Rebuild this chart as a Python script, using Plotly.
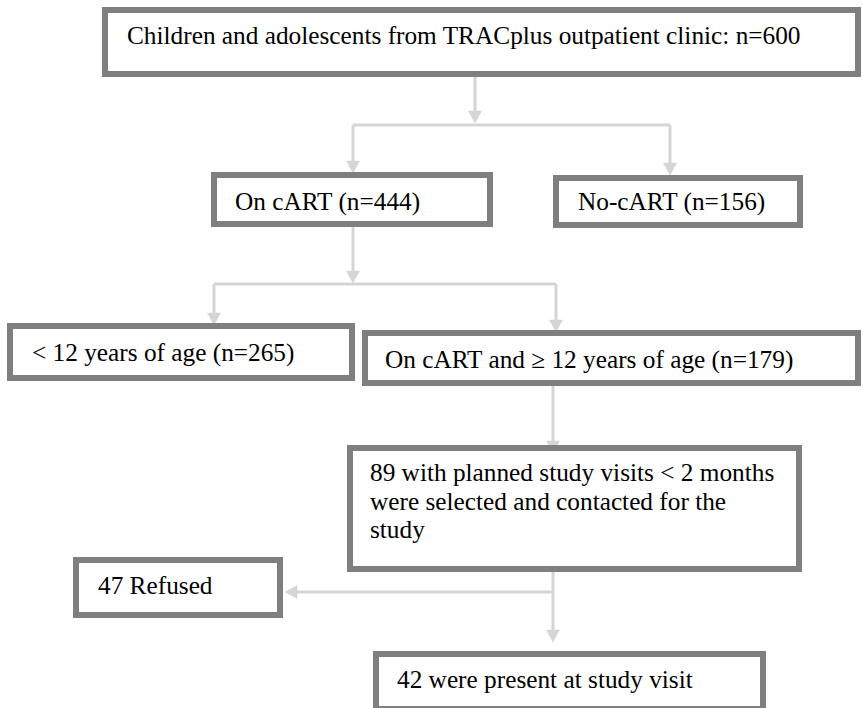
import plotly.graph_objects as go

# ---- data ----
counts = [600, 444, 156, 265, 179, 89, 47, 42]
box_labels = [
    f"Children and adolescents from TRACplus outpatient clinic: n={counts[0]}",
    f"On cART (n={counts[1]})",
    f"No-cART (n={counts[2]})",
    f"< 12 years of age (n={counts[3]})",
    f"On cART and \u2265 12 years of age (n={counts[4]})",
    [f"{counts[5]} with planned study visits < 2 months",
     "were selected and contacted for the",
     "study"],
    f"{counts[6]} Refused",
    f"{counts[7]} were present at study visit",
]

# ---- layout (pixel geometry, y downwards) ----
W, H = 863, 708
boxes = [  # outer x0, y0, x1, y1
    (102, 7, 861, 77),
    (211, 172, 493, 227),
    (553, 175, 803, 228),
    (7, 323, 355, 381),
    (362, 330, 861, 386),
    (347, 445, 802, 572),
    (73, 557, 283, 618),
    (373, 651, 766, 712),
]
text_pos = [  # left x, centre y of first line
    (125, 35), (233, 201), (576, 201), (30, 352), (383, 359),
    (368, 472), (96, 585), (395, 679),
]
line_gap = 28.5
segments = [
    ((353, 125), (670, 125)),
    ((214, 284), (556, 284)),
]
arrows = [  # (start, tip)
    ((475, 77), (475, 123)),
    ((353, 125), (353, 173)),
    ((670, 125), (670, 175)),
    ((353, 227), (353, 283)),
    ((214, 284), (214, 325)),
    ((556, 284), (556, 332)),
    ((553, 386), (553, 453)),
    ((553, 572), (553, 642)),
    ((553, 592), (285, 592)),
]

BORDER = "#7f7f7f"
BW = 6
CONN = "#d5d5d5"
CW = 3
HEAD_L, HEAD_HW = 12, 6.5
FONT = dict(family="Liberation Serif, Times New Roman, serif", size=25.3, color="black")

fig = go.Figure()
fig.add_trace(go.Scatter(x=[0, W], y=[0, H], mode="markers",
                         marker=dict(opacity=0), hoverinfo="skip", showlegend=False))

shapes = []
for (a, b) in segments:
    shapes.append(dict(type="line", x0=a[0], y0=a[1], x1=b[0], y1=b[1],
                       xref="x", yref="y", line=dict(color=CONN, width=CW)))
for (s, t) in arrows:
    dx, dy = t[0] - s[0], t[1] - s[1]
    L = (dx * dx + dy * dy) ** 0.5
    ux, uy = dx / L, dy / L
    bx, by = t[0] - ux * HEAD_L, t[1] - uy * HEAD_L
    shapes.append(dict(type="line", x0=s[0], y0=s[1], x1=bx + ux, y1=by + uy,
                       xref="x", yref="y", line=dict(color=CONN, width=CW)))
    px, py = -uy, ux
    path = (f"M {bx + px * HEAD_HW},{by + py * HEAD_HW} "
            f"L {bx - px * HEAD_HW},{by - py * HEAD_HW} L {t[0]},{t[1]} Z")
    shapes.append(dict(type="path", path=path, xref="x", yref="y",
                       fillcolor=CONN, line=dict(color=CONN, width=0.5)))

for (x0, y0, x1, y1) in boxes:
    h = BW / 2
    shapes.append(dict(type="rect", x0=x0 + h, y0=y0 + h, x1=x1 - h, y1=y1 - h,
                       xref="x", yref="y", fillcolor="white",
                       line=dict(color=BORDER, width=BW)))

annotations = []
for lab, (tx, ty) in zip(box_labels, text_pos):
    lines = lab if isinstance(lab, list) else [lab]
    for i, ln in enumerate(lines):
        annotations.append(dict(x=tx, y=ty + i * line_gap, xref="x", yref="y",
                                text=ln, showarrow=False, xanchor="left",
                                yanchor="middle", font=FONT))

fig.update_layout(
    width=W, height=H, margin=dict(l=0, r=0, t=0, b=0),
    paper_bgcolor="white", plot_bgcolor="white",
    xaxis=dict(range=[0, W], visible=False, fixedrange=True),
    yaxis=dict(range=[H, 0], visible=False, fixedrange=True),
    shapes=shapes, annotations=annotations, showlegend=False,
)
fig.write_html("out.html", config={"displayModeBar": False},
               post_script="document.body.style.margin='0';document.body.style.overflow='hidden';")
